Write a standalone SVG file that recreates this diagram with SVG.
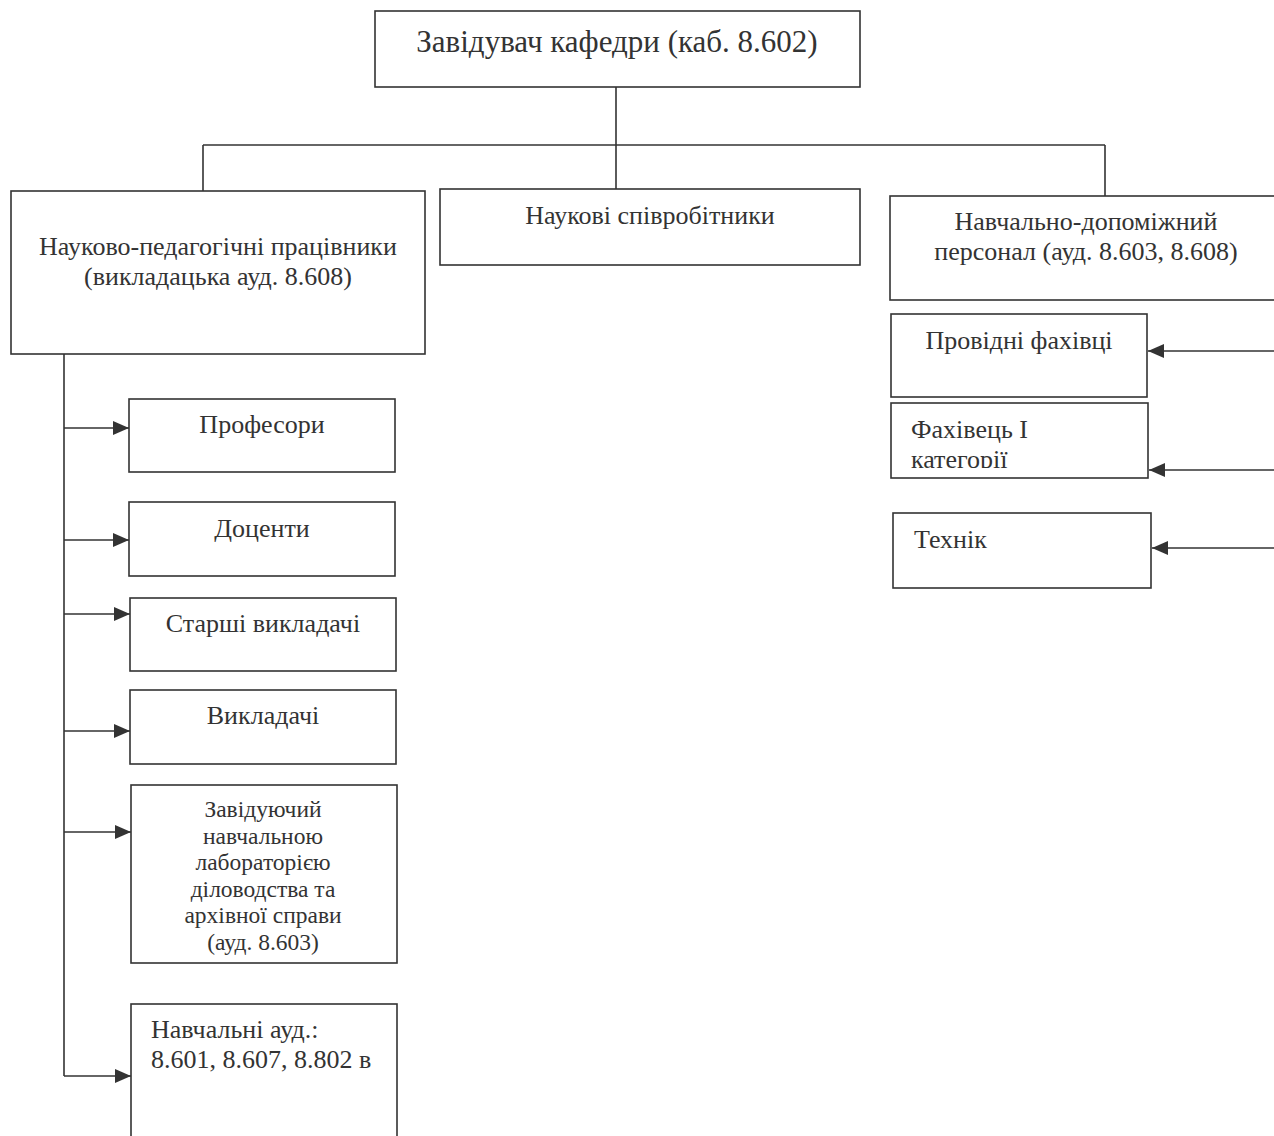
<svg xmlns="http://www.w3.org/2000/svg" width="1274" height="1136" viewBox="0 0 1274 1136">
<style>
.box{fill:#fff;stroke:#333;stroke-width:1.6}
.ln{fill:none;stroke:#333;stroke-width:1.6}
text{font-family:"Liberation Serif","Times New Roman",serif;fill:#333;font-size:26px}
.c{text-anchor:middle}
.s{font-size:23.5px}
</style>
<defs>
<marker id="ah" markerWidth="16" markerHeight="14" refX="16" refY="7" orient="auto" markerUnits="userSpaceOnUse">
<path d="M0,0 L16,7 L0,14 Z" fill="#333"/>
</marker>
<clipPath id="clipF"><rect x="891" y="403" width="257" height="65"/></clipPath>
</defs>
<rect width="1274" height="1136" fill="#fff"/>
<g id="connectors">
<path class="ln" d="M616,87 V189"/>
<path class="ln" d="M203,145 H1105"/>
<path class="ln" d="M203,145 V191"/>
<path class="ln" d="M1105,145 V196"/>
<path class="ln" d="M64,354 V1076"/>
<path class="ln" d="M64,428 H129" marker-end="url(#ah)"/>
<path class="ln" d="M64,540 H129" marker-end="url(#ah)"/>
<path class="ln" d="M64,614 H130" marker-end="url(#ah)"/>
<path class="ln" d="M64,731 H130" marker-end="url(#ah)"/>
<path class="ln" d="M64,832 H131" marker-end="url(#ah)"/>
<path class="ln" d="M64,1076 H131" marker-end="url(#ah)"/>
<path class="ln" d="M1274,351 H1148" marker-end="url(#ah)"/>
<path class="ln" d="M1274,470 H1149" marker-end="url(#ah)"/>
<path class="ln" d="M1274,548 H1152" marker-end="url(#ah)"/>
</g>
<g id="head">
<rect class="box" x="375" y="11" width="485" height="76"/>
<text class="c" x="617" y="52" style="font-size:31px">Завідувач кафедри (каб. 8.602)</text>
</g>
<g id="npp">
<rect class="box" x="11" y="191" width="414" height="163"/>
<text class="c" x="218" y="255">Науково-педагогічні працівники</text>
<text class="c" x="218" y="285">(викладацька ауд. 8.608)</text>
</g>
<g id="ns">
<rect class="box" x="440" y="189" width="420" height="76"/>
<text class="c" x="650" y="224">Наукові співробітники</text>
</g>
<g id="ndp">
<rect class="box" x="890" y="196" width="390" height="104"/>
<text class="c" x="1086" y="230">Навчально-допоміжний</text>
<text class="c" x="1086" y="260">персонал (ауд. 8.603, 8.608)</text>
</g>
<g id="prof">
<rect class="box" x="129" y="399" width="266" height="73"/>
<text class="c" x="262" y="433">Професори</text>
</g>
<g id="doc">
<rect class="box" x="129" y="502" width="266" height="74"/>
<text class="c" x="262" y="537">Доценти</text>
</g>
<g id="st">
<rect class="box" x="130" y="598" width="266" height="73"/>
<text class="c" x="263" y="632">Старші викладачі</text>
</g>
<g id="vyk">
<rect class="box" x="130" y="690" width="266" height="74"/>
<text class="c" x="263" y="724">Викладачі</text>
</g>
<g id="zav">
<rect class="box" x="131" y="785" width="266" height="178"/>
<text class="c s" x="263" y="817">Завідуючий</text>
<text class="c s" x="263" y="844">навчальною</text>
<text class="c s" x="263" y="870">лабораторією</text>
<text class="c s" x="263" y="897">діловодства та</text>
<text class="c s" x="263" y="923">архівної справи</text>
<text class="c s" x="263" y="950">(ауд. 8.603)</text>
</g>
<g id="aud">
<rect class="box" x="131" y="1004" width="266" height="140"/>
<text x="151" y="1038">Навчальні ауд.:</text>
<text x="151" y="1068">8.601, 8.607, 8.802 в</text>
</g>
<g id="provid">
<rect class="box" x="891" y="314" width="256" height="83"/>
<text class="c" x="1019" y="349">Провідні фахівці</text>
</g>
<g id="fakh">
<rect class="box" x="891" y="403" width="257" height="75"/>
<g clip-path="url(#clipF)">
<text x="911" y="438">Фахівець І</text>
<text x="911" y="468">категорії</text>
</g>
</g>
<g id="tekh">
<rect class="box" x="893" y="513" width="258" height="75"/>
<text x="914" y="548">Технік</text>
</g>
</svg>
